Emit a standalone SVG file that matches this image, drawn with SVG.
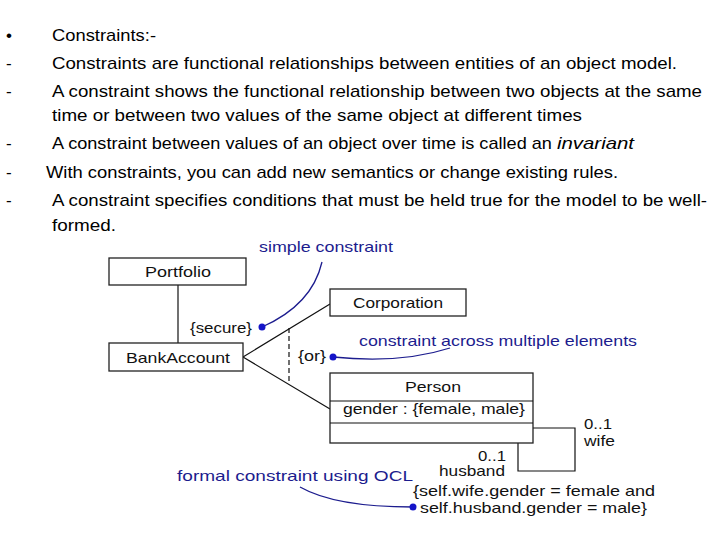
<svg xmlns="http://www.w3.org/2000/svg" width="720" height="540" viewBox="0 0 720 540">
<style>
.body{font-family:"Liberation Sans","DejaVu Sans",sans-serif;font-size:17px;fill:#000}
.lbl{font-family:"Liberation Sans",Arial,sans-serif;font-size:15px;fill:#111}
.note{font-family:"Liberation Sans",Arial,sans-serif;font-size:15px;fill:#1c1c8e}
.box{fill:#fff;stroke:#222;stroke-width:1.3}
.ln{fill:none;stroke:#111;stroke-width:1.2}
.dash{fill:none;stroke:#111;stroke-width:1.2;stroke-dasharray:5 3}
.blue{fill:none;stroke:#1c1c8e;stroke-width:1.3}
.dot{fill:#1414c8}
</style>
<rect width="720" height="540" fill="#fff"/>
<g id="text-block">
<text class="body" x="6" y="41">•</text>
<text class="body" x="52" y="41" textLength="104" lengthAdjust="spacingAndGlyphs">Constraints:-</text>
<text class="body" x="6" y="69">-</text>
<text class="body" x="52" y="69" textLength="625" lengthAdjust="spacingAndGlyphs">Constraints are functional relationships between entities of an object model.</text>
<text class="body" x="6" y="97">-</text>
<text class="body" x="52" y="97" textLength="650" lengthAdjust="spacingAndGlyphs">A constraint shows the functional relationship between two objects at the same</text>
<text class="body" x="52" y="121" textLength="530" lengthAdjust="spacingAndGlyphs">time or between two values of the same object at different times</text>
<text class="body" x="6" y="149">-</text>
<text class="body" x="52" y="149"><tspan textLength="505" lengthAdjust="spacingAndGlyphs">A constraint between values of an object over time is called an </tspan><tspan font-style="italic" textLength="77" lengthAdjust="spacingAndGlyphs">invariant</tspan></text>
<text class="body" x="6" y="178">-</text>
<text class="body" x="46" y="178" textLength="572" lengthAdjust="spacingAndGlyphs">With  constraints, you can add new semantics or change existing rules.</text>
<text class="body" x="6" y="206">-</text>
<text class="body" x="52" y="206" textLength="655" lengthAdjust="spacingAndGlyphs">A constraint specifies conditions that must be held true for the model to be well-</text>
<text class="body" x="52" y="231" textLength="64" lengthAdjust="spacingAndGlyphs">formed.</text>
</g>
<g id="connectors">
<line class="ln" x1="178" y1="285" x2="178" y2="343"/>
<polyline class="ln" points="330,304 243,357 330,409"/>
<line class="dash" x1="289" y1="328" x2="289" y2="384"/>
<polyline class="ln" points="533,428 575,428 575,471 518,471 518,443"/>
<path class="blue" d="M262,327 Q312,305 322,262"/>
<path class="blue" d="M333,357 Q400,364 450,348"/>
<path class="blue" d="M300,487 Q335,507 413,507"/>
<circle class="dot" cx="262" cy="327" r="3.5"/>
<circle class="dot" cx="333" cy="357" r="3.5"/>
<circle class="dot" cx="413" cy="507" r="3.5"/>
</g>
<g id="Portfolio">
<rect class="box" x="109" y="258" width="137" height="27"/>
<text class="lbl" x="145" y="277" textLength="66" lengthAdjust="spacingAndGlyphs">Portfolio</text>
</g>
<g id="BankAccount">
<rect class="box" x="109" y="343" width="134" height="28"/>
<text class="lbl" x="126" y="363" textLength="104" lengthAdjust="spacingAndGlyphs">BankAccount</text>
</g>
<g id="Corporation">
<rect class="box" x="330" y="289" width="136" height="27"/>
<text class="lbl" x="353" y="308" textLength="90" lengthAdjust="spacingAndGlyphs">Corporation</text>
</g>
<g id="Person">
<rect class="box" x="330" y="373" width="203" height="70"/>
<line class="ln" x1="330" y1="401" x2="533" y2="401"/>
<line class="ln" x1="330" y1="423" x2="533" y2="423"/>
<text class="lbl" x="405" y="392" textLength="56" lengthAdjust="spacingAndGlyphs">Person</text>
<text class="lbl" x="343" y="414" textLength="182" lengthAdjust="spacingAndGlyphs">gender : {female, male}</text>
</g>
<g id="labels">
<text class="lbl" x="190" y="333" textLength="62" lengthAdjust="spacingAndGlyphs">{secure}</text>
<text class="lbl" x="298" y="361" textLength="28" lengthAdjust="spacingAndGlyphs">{or}</text>
<text class="lbl" x="584" y="429" textLength="28" lengthAdjust="spacingAndGlyphs">0..1</text>
<text class="lbl" x="584" y="446" textLength="31" lengthAdjust="spacingAndGlyphs">wife</text>
<text class="lbl" x="478" y="461" textLength="28" lengthAdjust="spacingAndGlyphs">0..1</text>
<text class="lbl" x="439" y="476" textLength="66" lengthAdjust="spacingAndGlyphs">husband</text>
<text class="lbl" x="413" y="496" textLength="242" lengthAdjust="spacingAndGlyphs">{self.wife.gender = female and</text>
<text class="lbl" x="420" y="513" textLength="227" lengthAdjust="spacingAndGlyphs">self.husband.gender = male}</text>
</g>
<g id="notes">
<text class="note" x="259" y="252" textLength="134" lengthAdjust="spacingAndGlyphs">simple constraint</text>
<text class="note" x="359" y="346" textLength="278" lengthAdjust="spacingAndGlyphs">constraint across multiple elements</text>
<text class="note" x="177" y="481" textLength="236" lengthAdjust="spacingAndGlyphs">formal constraint using OCL</text>
</g>
</svg>
